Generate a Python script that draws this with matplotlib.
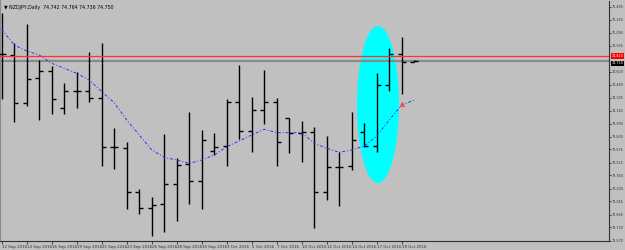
import matplotlib
matplotlib.use("Agg")
import matplotlib.pyplot as plt
from matplotlib.patches import Ellipse
import matplotlib.transforms as mtrans
import numpy as np

# ---- data ----
opens  = [74.830, 74.818, 74.236, 74.543, 74.624, 74.182, 74.381, 74.381, 74.304, 73.701,
          73.693, 73.155, 72.968, 73.013, 73.256, 73.499, 73.289, 73.657, 73.721, 74.248,
          73.899, 74.151, 74.255, 74.054, 73.879, 73.884, 73.155, 73.466, 73.475, 73.891,
          73.717, 74.458, 74.830, 74.742]
highs  = [75.336, 74.971, 75.198, 74.761, 74.689, 74.486, 74.619, 74.855, 74.968, 73.939,
          73.762, 73.195, 73.102, 73.863, 73.568, 74.130, 73.912, 73.871, 74.284, 74.701,
          74.309, 74.640, 74.296, 74.054, 74.021, 73.944, 73.842, 73.641, 74.134, 73.993,
          74.600, 74.903, 75.037, 74.764]
lows   = [74.288, 74.012, 74.207, 74.033, 74.106, 74.102, 74.182, 74.255, 73.478, 73.438,
          72.949, 72.895, 72.625, 72.673, 72.807, 73.010, 72.949, 73.608, 73.478, 73.799,
          73.648, 73.981, 73.478, 73.629, 73.519, 72.718, 73.062, 72.989, 73.426, 73.709,
          73.648, 74.385, 74.349, 74.736]
closes = [74.830, 74.236, 74.534, 74.624, 74.292, 74.381, 74.381, 74.304, 73.701, 73.701,
          73.155, 72.968, 72.997, 73.256, 73.487, 73.289, 73.787, 73.705, 74.248, 73.899,
          74.151, 74.255, 73.762, 73.879, 73.884, 73.155, 73.466, 73.466, 73.790, 73.717,
          74.458, 74.830, 74.741, 74.750]
ma_values = [75.134, 74.943, 74.871, 74.822, 74.721, 74.661, 74.600, 74.519, 74.377, 74.243,
             74.033, 73.851, 73.669, 73.580, 73.547, 73.507, 73.547, 73.608, 73.709, 73.778,
             73.851, 73.920, 73.879, 73.879, 73.879, 73.750, 73.689, 73.641, 73.669, 73.717,
             73.839, 74.033, 74.215, 74.276]
date_labels = ["12 Sep 2016", "14 Sep 2016", "16 Sep 2016", "19 Sep 2016", "21 Sep 2016",
               "23 Sep 2016", "26 Sep 2016", "28 Sep 2016", "30 Sep 2016", "3 Oct 2016",
               "5 Oct 2016", "7 Oct 2016", "10 Oct 2016", "12 Oct 2016", "14 Oct 2016",
               "17 Oct 2016", "19 Oct 2016"]
price_ticks = [72.570, 72.730, 72.885, 73.045, 73.200, 73.360, 73.515, 73.675, 73.830,
               73.990, 74.145, 74.305, 74.460, 74.620, 74.935, 75.090, 75.250, 75.405]
hline_price = 74.810
bid_price = 74.750
title_text = "NZDJPY,Daily  74.742 74.764 74.736 74.750"
marker_price = 74.227

BG = "#C0C0C0"
W, H = 625, 250
fig = plt.figure(figsize=(W / 100, H / 100), dpi=100, facecolor=BG)
ax = fig.add_axes([0 / W, 9 / H, 609 / W, 240 / H], facecolor=BG)

n = len(opens)
x = np.arange(n)
ax.set_xlim(-0.136, 48.58)
ax.set_ylim(72.564, 75.4776)

# ellipse highlight
ell = Ellipse((30.1, 74.221), 3.36, 1.906, facecolor="#00FFFF", edgecolor="none", zorder=1)
ax.add_patch(ell)

# OHLC bars
tick_w = 0.32
lw = 1.0
ax.vlines(x, lows, highs, color="black", lw=lw, zorder=3)
ax.hlines(opens, x - tick_w, x, color="black", lw=lw, zorder=3)
ax.hlines(closes, x, x + tick_w, color="black", lw=lw, zorder=3)

# moving average
ax.plot(x, ma_values, color="#3030FF", lw=0.7, linestyle=(0, (3, 2, 1, 2)), zorder=4)

# horizontal lines
ax.axhline(hline_price, color="#FF3030", lw=0.9, zorder=5)
ax.axhline(bid_price, color="#8A8A8A", lw=1.6, zorder=2)

# small red marker
ax.plot([32], [marker_price], marker="^", ms=3, mfc="none", mec="#FF4040", mew=0.7, zorder=6)

# spines
ax.spines["top"].set_visible(False)
ax.spines["left"].set_color("#8A8A8A")
ax.spines["left"].set_linewidth(1.5)
ax.spines["right"].set_color("#303030")
ax.spines["bottom"].set_color("#303030")
ax.spines["right"].set_linewidth(0.8)
ax.spines["bottom"].set_linewidth(0.8)

FS = 2.9
FSY = 2.45
# y axis on right
ax.yaxis.tick_right()
ax.set_yticks(price_ticks)
ax.set_yticklabels([f"{p:.3f}" for p in price_ticks])
ax.tick_params(axis="y", direction="out", length=1.2, width=0.6, pad=0.5,
               labelsize=FSY, colors="#303030")

# x axis
xt = list(range(0, 2 * len(date_labels), 2))
ax.set_xticks(xt)
ax.set_xticklabels(date_labels)
ax.tick_params(axis="x", direction="out", length=2.5, width=0.6, pad=0.3,
               labelsize=FS, colors="#303030")
for lbl in ax.get_xticklabels():
    lbl.set_ha("left")

# price labels on right
trans = mtrans.blended_transform_factory(ax.transAxes, ax.transData)
ax.text(1.004, hline_price, f"{hline_price:.3f}", transform=trans, fontsize=FSY,
        color="white", va="center", ha="left",
        bbox=dict(boxstyle="square,pad=0.2", fc="#FF0000", ec="none"), zorder=10, clip_on=False)
ax.text(1.004, bid_price - 0.03, f"{bid_price:.3f}", transform=trans, fontsize=FSY,
        color="white", va="center", ha="left",
        bbox=dict(boxstyle="square,pad=0.2", fc="black", ec="none"), zorder=10, clip_on=False)

# title
ax.text(4 / 609, 1 - 6 / 240, "\u25BC " + title_text, transform=ax.transAxes,
        fontsize=3.4, color="black", va="center", ha="left")

fig.savefig("out.png", dpi=100, facecolor=BG)
